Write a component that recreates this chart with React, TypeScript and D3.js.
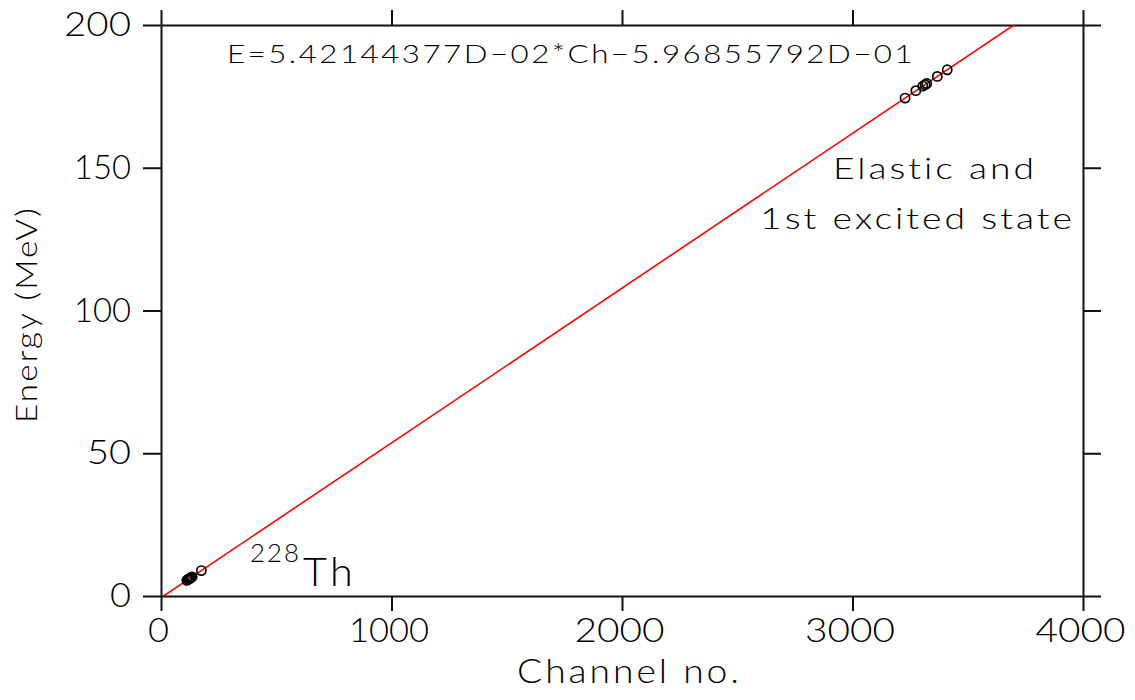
import { useEffect, useRef } from 'react'
import * as d3 from 'd3'

const W = 1135
const H = 700
const MARGIN = { top: 25, right: 52, bottom: 104, left: 161 }

// calibration points (channel, energy in MeV)
const lowChannels = [112, 118, 122, 126, 130, 135, 175]
const lowEnergies = [5.5, 5.8, 6.0, 6.2, 6.5, 6.7, 8.9]
const highChannels = [3228, 3275, 3305, 3315, 3322, 3368, 3411]
const highEnergies = [174.4, 177.0, 178.6, 179.1, 179.5, 182.0, 184.3]

// linear fit E = a*Ch + b
const FIT_SLOPE = 5.42144377e-2
const FIT_INTERCEPT = -5.96855792e-1
const fitChannels = [0, 3700]

const xTicks = [0, 1000, 2000, 3000, 4000]
const yTicks = [0, 50, 100, 150, 200]

const FONT = "Lato, 'Open Sans', sans-serif"

// rough width of a tick label in the wide plotter font
const labelWidth = (s: string) =>
  s.split('').reduce((acc, ch) => acc + (ch === '1' ? 13 : 23), 0) - 2

export default function App() {
  const svgRef = useRef<SVGSVGElement>(null)

  useEffect(() => {
    const el = svgRef.current
    if (!el) return
    const w = W - MARGIN.left - MARGIN.right
    const h = H - MARGIN.top - MARGIN.bottom

    d3.select(el).selectAll('*').remove()
    const svg = d3.select(el).attr('width', W).attr('height', H)
    const g = svg.append('g').attr('transform', `translate(${MARGIN.left},${MARGIN.top})`)

    const x = d3.scaleLinear().domain([0, 4000]).range([0, w])
    const y = d3.scaleLinear().domain([0, 200]).range([h, 0])

    svg.append('defs').append('clipPath').attr('id', 'plot-clip')
      .append('rect').attr('x', 0).attr('y', 0).attr('width', w).attr('height', h)

    const styleAxis = (sel: any) => {
      sel.select('.domain').attr('stroke', '#111').attr('stroke-width', 2)
      sel.selectAll('.tick line').attr('stroke', '#111').attr('stroke-width', 2)
      sel.selectAll('text')
        .attr('font-family', FONT).attr('font-size', '33px')
        .attr('font-weight', 300).attr('fill', '#000')
        .attr('textLength', (d: number) => labelWidth(String(d)))
        .attr('lengthAdjust', 'spacingAndGlyphs')
    }

    g.append('g').attr('transform', `translate(0,${h})`)
      .call(d3.axisBottom(x).tickValues(xTicks).tickSize(15).tickSizeOuter(0).tickPadding(8).tickFormat(d3.format('d')))
      .call(styleAxis)
      .call(s => s.selectAll('text').attr('dx', -3))
    g.append('g')
      .call(d3.axisTop(x).tickValues(xTicks).tickSize(15).tickSizeOuter(0).tickFormat(() => ''))
      .call(styleAxis)
    g.append('g')
      .call(d3.axisLeft(y).tickValues(yTicks).tickSize(18).tickSizeOuter(0).tickPadding(12).tickFormat(d3.format('d')))
      .call(styleAxis)
    g.append('g').attr('transform', `translate(${w},0)`)
      .call(d3.axisRight(y).tickValues(yTicks).tickSize(18).tickSizeOuter(0).tickFormat(() => ''))
      .call(styleAxis)

    // fit line
    const line = d3.line<number>()
      .x(c => x(c))
      .y(c => y(FIT_SLOPE * c + FIT_INTERCEPT))
    g.append('path')
      .datum(fitChannels)
      .attr('clip-path', 'url(#plot-clip)')
      .attr('fill', 'none')
      .attr('stroke', '#ff0000')
      .attr('stroke-width', 1.6)
      .attr('d', line)

    // data points
    const pts = [
      ...lowChannels.map((c, i) => ({ c, e: lowEnergies[i] })),
      ...highChannels.map((c, i) => ({ c, e: highEnergies[i] })),
    ]
    g.selectAll('circle.pt').data(pts).enter().append('circle')
      .attr('class', 'pt')
      .attr('cx', d => x(d.c))
      .attr('cy', d => y(d.e))
      .attr('r', 4.6)
      .attr('fill', 'none')
      .attr('stroke', '#000')
      .attr('stroke-width', 1.7)

    const txt = (s: string, tx: number, ty: number, size: number, len: number) =>
      svg.append('text')
        .attr('x', tx).attr('y', ty)
        .attr('font-family', FONT).attr('font-weight', 300)
        .attr('font-size', size).attr('fill', '#000')
        .attr('letter-spacing', size * 0.08)
        .attr('textLength', len).attr('lengthAdjust', 'spacingAndGlyphs')
        .text(s)

    txt('E=5.42144377D\u221202*Ch\u22125.96855792D\u221201', 227, 63, 25, 688)
    txt('Elastic and', 833, 179, 29, 204)
    txt('1st excited state', 760, 229, 29, 315)
    txt('228', 250, 562, 25, 51)
    txt('Th', 303, 586, 39, 53)
    txt('Channel no.', 517, 683, 34, 225)

    svg.append('text')
      .attr('transform', 'translate(37,423) rotate(-90)')
      .attr('font-family', FONT).attr('font-weight', 300)
      .attr('font-size', 30).attr('fill', '#000')
      .attr('letter-spacing', 2)
      .attr('textLength', 217).attr('lengthAdjust', 'spacingAndGlyphs')
      .text('Energy (MeV)')
  }, [])

  return (
    <svg
      ref={svgRef}
      style={{ position: 'absolute', left: 0, top: 0, display: 'block', background: '#fff' }}
    />
  )
}
